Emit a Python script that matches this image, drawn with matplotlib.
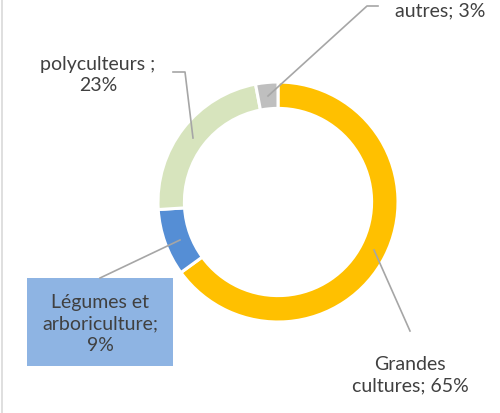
import matplotlib
matplotlib.use("Agg")
import matplotlib.pyplot as plt
from matplotlib.lines import Line2D
from matplotlib.patches import Rectangle

categories = ["Grandes\ncultures; 65%", "Légumes et\narboriculture;\n9%", "polyculteurs ;\n23%", "autres; 3%"]
values = [65, 9, 23, 3]
colors = ["#FFC000", "#558ED5", "#D7E4BD", "#BFBFBF"]

W, H = 500, 414
fig = plt.figure(figsize=(W / 100, H / 100), dpi=100)
plt.rcParams['font.family'] = ['Lato', 'DejaVu Sans']

def px(x, y):
    return (x / W, 1 - y / H)

cx, cy, r = 278, 203, 120
ax = fig.add_axes([(cx - r) / W, 1 - (cy + r) / H, 2 * r / W, 2 * r / H])
ax.pie(values, colors=colors, startangle=90, counterclock=False,
       wedgeprops=dict(width=0.22, edgecolor="white", linewidth=2.2), radius=1)
ax.set_xlim(-1, 1)
ax.set_ylim(-1, 1)
ax.set_aspect('equal')
ax.axis('off')

lc = "#A6A6A6"
tc = "#404040"
fs = 14
ls = 1.3

def line(pts):
    xs = [px(*p)[0] for p in pts]
    ys = [px(*p)[1] for p in pts]
    fig.add_artist(Line2D(xs, ys, color=lc, lw=1.2, transform=fig.transFigure))

# left border
fig.add_artist(Line2D([2 / W, 2 / W], [0, 1], color="#D9D9D9", lw=1.2, transform=fig.transFigure))

# Grandes cultures
line([(374, 251), (410, 332)])
fig.text(*px(410, 375), categories[0], ha="center", va="center", fontsize=fs, color=tc, linespacing=ls)

# Légumes box
fig.add_artist(Rectangle(px(27, 367), 146 / W, 88 / H, facecolor="#8EB4E3", edgecolor="none", transform=fig.transFigure))
line([(100, 279), (180, 241)])
fig.text(*px(100, 324), categories[1], ha="center", va="center", fontsize=fs, color=tc, linespacing=ls)

# polyculteurs
line([(173, 73), (185, 73), (193, 139)])
fig.text(*px(98, 75), categories[2], ha="center", va="center", fontsize=fs, color=tc, linespacing=ls)

# autres
line([(268, 97), (367, 7), (378, 7)])
fig.text(*px(440, 11), categories[3], ha="center", va="center", fontsize=fs, color=tc)

fig.savefig("out.png", dpi=100)
